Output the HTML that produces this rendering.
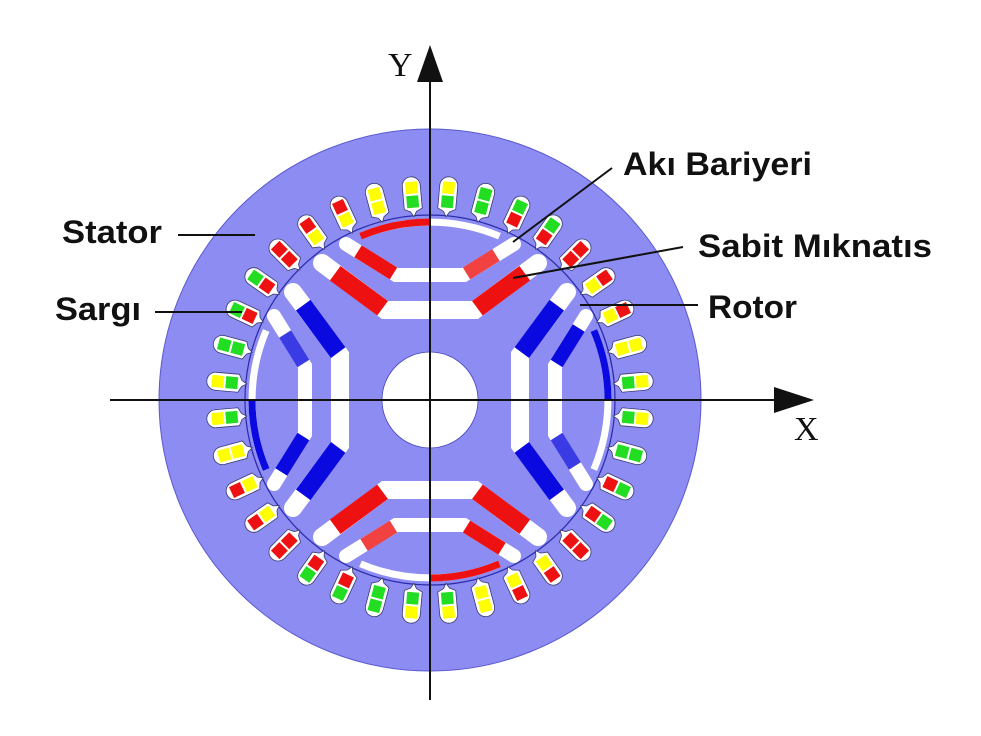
<!DOCTYPE html>
<html><head><meta charset="utf-8"><style>
html,body{margin:0;padding:0;background:#fff;}
svg{display:block;}
.lb{font-family:"Liberation Sans",sans-serif;font-weight:bold;font-size:32px;fill:#111;}
.ax{font-family:"Liberation Serif",serif;font-size:34px;fill:#111;}
</style></head><body>
<svg width="981" height="736" viewBox="0 0 981 736" xmlns="http://www.w3.org/2000/svg">
<defs>
  <path id="sb" d="M -9,-215 A 9 9 0 0 1 9,-215 L 9,-192 L 3,-189 L 0,-184 L -3,-189 L -9,-192 Z" fill="#fff" stroke="#3a3a70" stroke-width="0.8"/>
  <g id="p0"><use href="#sb"/><rect x="-6" y="-219" width="12" height="12" fill="#ffff00"/><rect x="-6" y="-205" width="12" height="12" fill="#22dd22"/></g>
  <g id="p1"><use href="#sb"/><rect x="-6" y="-219" width="12" height="12" fill="#ffff00"/><rect x="-6" y="-205" width="12" height="12" fill="#22dd22"/></g>
  <g id="p2"><use href="#sb"/><rect x="-6" y="-219" width="12" height="12" fill="#22dd22"/><rect x="-6" y="-205" width="12" height="12" fill="#22dd22"/></g>
  <g id="p3"><use href="#sb"/><rect x="-6" y="-219" width="12" height="12" fill="#22dd22"/><rect x="-6" y="-205" width="12" height="12" fill="#ee1111"/></g>
  <g id="p4"><use href="#sb"/><rect x="-6" y="-219" width="12" height="12" fill="#22dd22"/><rect x="-6" y="-205" width="12" height="12" fill="#ee1111"/></g>
  <g id="p5"><use href="#sb"/><rect x="-6" y="-219" width="12" height="12" fill="#ee1111"/><rect x="-6" y="-205" width="12" height="12" fill="#ee1111"/></g>
  <g id="p6"><use href="#sb"/><rect x="-6" y="-219" width="12" height="12" fill="#ee1111"/><rect x="-6" y="-205" width="12" height="12" fill="#ffff00"/></g>
  <g id="p7"><use href="#sb"/><rect x="-6" y="-219" width="12" height="12" fill="#ee1111"/><rect x="-6" y="-205" width="12" height="12" fill="#ffff00"/></g>
  <g id="p8"><use href="#sb"/><rect x="-6" y="-219" width="12" height="12" fill="#ffff00"/><rect x="-6" y="-205" width="12" height="12" fill="#ffff00"/></g>
  <g id="pole" fill="none">
    <polyline points="-108,-137 -45,-90 45,-90 108,-137" stroke="#fff" stroke-width="18" stroke-linejoin="miter" stroke-linecap="round"/>
    <polyline points="-84,-156 -34,-125 34,-125 84,-156" stroke="#fff" stroke-width="14" stroke-linejoin="miter" stroke-linecap="round"/>
    <path d="M -69.5,-163.8 A 178 178 0 0 1 69.5,-163.8" stroke="#fff" stroke-width="7"/>
    <path d="M -69.5,-163.8 A 178 178 0 0 1 0,-178" stroke="currentColor" stroke-width="7"/>
    <line x1="-47.4" y1="-91.8" x2="-94.8" y2="-126.8" stroke="currentColor" stroke-width="18"/>
    <line x1="47.4" y1="-91.8" x2="94.8" y2="-126.8" stroke="currentColor" stroke-width="18"/>
    <line x1="-36.5" y1="-126.6" x2="-72" y2="-148.7" stroke="currentColor" stroke-width="14"/>
    <line x1="36.5" y1="-126.6" x2="66" y2="-144.9" stroke="currentColor" stroke-width="14" opacity="0.8"/>
  </g>
</defs>

<circle cx="430" cy="400" r="271" fill="#8c8cf2" stroke="#5a5ad0" stroke-width="1"/>

<g transform="translate(430,400)">
  <use href="#pole" color="#ee1111"/>
  <use href="#pole" color="#ee1111" transform="rotate(180)"/>
  <use href="#pole" color="#0a0ae0" transform="rotate(90)"/>
  <use href="#pole" color="#0a0ae0" transform="rotate(-90)"/>
  <circle r="185" fill="none" stroke="#2a2aa8" stroke-width="1.2"/>
  <circle r="48" fill="#fff" stroke="#4444bb" stroke-width="0.8"/>

  <use href="#p1" transform="rotate(5)"/>
  <use href="#p2" transform="rotate(15)"/>
  <use href="#p3" transform="rotate(25)"/>
  <use href="#p4" transform="rotate(35)"/>
  <use href="#p5" transform="rotate(45)"/>
  <use href="#p6" transform="rotate(55)"/>
  <use href="#p7" transform="rotate(65)"/>
  <use href="#p8" transform="rotate(75)"/>
  <use href="#p0" transform="rotate(85)"/>
  <use href="#p1" transform="rotate(95)"/>
  <use href="#p2" transform="rotate(105)"/>
  <use href="#p3" transform="rotate(115)"/>
  <use href="#p4" transform="rotate(125)"/>
  <use href="#p5" transform="rotate(135)"/>
  <use href="#p6" transform="rotate(145)"/>
  <use href="#p7" transform="rotate(155)"/>
  <use href="#p8" transform="rotate(165)"/>
  <use href="#p0" transform="rotate(175)"/>
  <use href="#p1" transform="rotate(185)"/>
  <use href="#p2" transform="rotate(195)"/>
  <use href="#p3" transform="rotate(205)"/>
  <use href="#p4" transform="rotate(215)"/>
  <use href="#p5" transform="rotate(225)"/>
  <use href="#p6" transform="rotate(235)"/>
  <use href="#p7" transform="rotate(245)"/>
  <use href="#p8" transform="rotate(255)"/>
  <use href="#p0" transform="rotate(265)"/>
  <use href="#p1" transform="rotate(275)"/>
  <use href="#p2" transform="rotate(285)"/>
  <use href="#p3" transform="rotate(295)"/>
  <use href="#p4" transform="rotate(305)"/>
  <use href="#p5" transform="rotate(315)"/>
  <use href="#p6" transform="rotate(325)"/>
  <use href="#p7" transform="rotate(335)"/>
  <use href="#p8" transform="rotate(345)"/>
  <use href="#p0" transform="rotate(355)"/>
</g>

<line x1="430" y1="78" x2="430" y2="700" stroke="#111" stroke-width="2"/>
<polygon points="430,45 417,82 443,82" fill="#111"/>
<line x1="110" y1="400" x2="778" y2="400" stroke="#111" stroke-width="2"/>
<polygon points="814,400 774,387 774,413" fill="#111"/>
<text class="ax" x="388" y="76">Y</text>
<text class="ax" x="794" y="440">X</text>

<text class="lb" x="62" y="243" textLength="100" lengthAdjust="spacingAndGlyphs">Stator</text>
<line x1="178" y1="235" x2="255" y2="235" stroke="#111" stroke-width="2"/>
<text class="lb" x="55" y="320" textLength="86" lengthAdjust="spacingAndGlyphs">Sargı</text>
<line x1="155" y1="312" x2="242" y2="312" stroke="#111" stroke-width="2"/>
<text class="lb" x="623" y="175" textLength="189" lengthAdjust="spacingAndGlyphs">Akı Bariyeri</text>
<line x1="612" y1="168" x2="513" y2="242" stroke="#111" stroke-width="2"/>
<text class="lb" x="698" y="257" textLength="234" lengthAdjust="spacingAndGlyphs">Sabit Mıknatıs</text>
<line x1="683" y1="247" x2="513" y2="278" stroke="#111" stroke-width="2"/>
<text class="lb" x="708" y="318" textLength="89" lengthAdjust="spacingAndGlyphs">Rotor</text>
<line x1="580" y1="305" x2="698" y2="305" stroke="#111" stroke-width="2"/>
</svg>
</body></html>
